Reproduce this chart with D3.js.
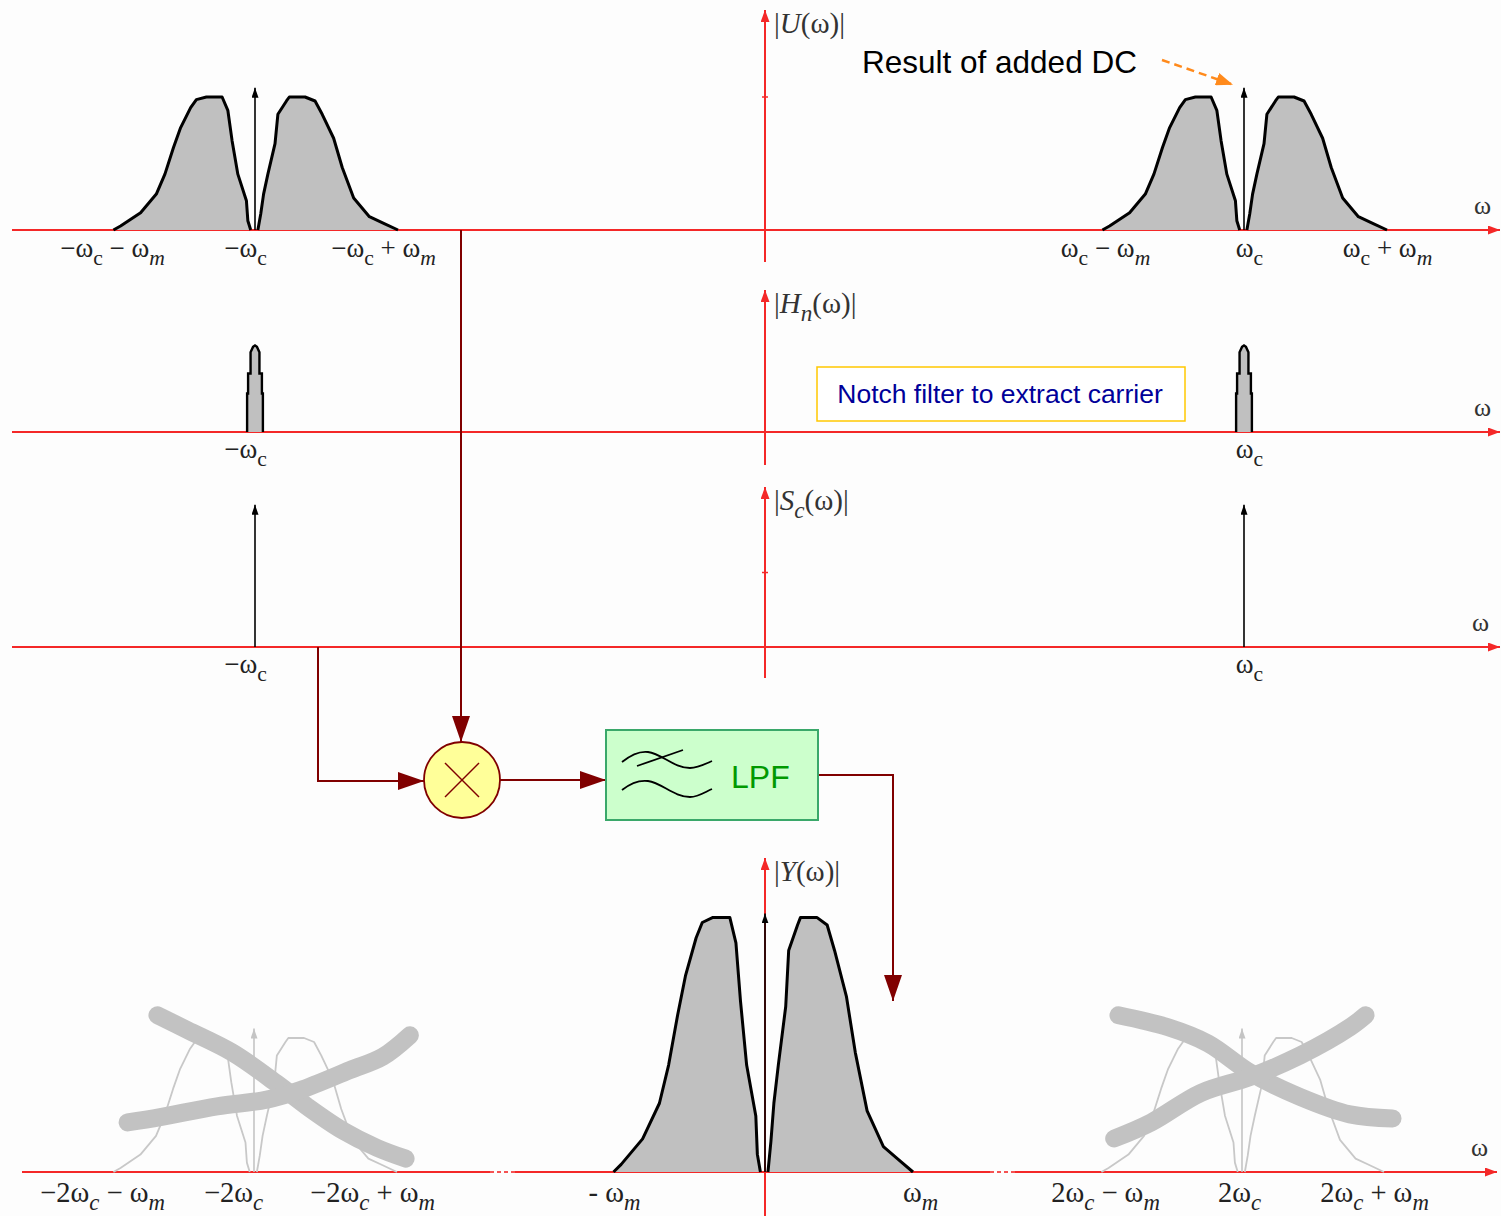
<!DOCTYPE html>
<html>
<head>
<meta charset="utf-8">
<script src="https://cdn.jsdelivr.net/npm/d3@7"></script>
<style>
body { margin: 0; background: #fdfdfd; }
svg { display: block; }
</style>
</head>
<body>
<script>
// carrier and message bandwidth (wc = 1)
var wc = 1, wm = 0.29;

// one side-band pair around a carrier: offset in units of wm, level
var lobeLeftU  = [-0.99, -0.94, -0.80, -0.69, -0.63, -0.57, -0.52, -0.45, -0.41, -0.34, -0.23, -0.19, -0.16, -0.12, -0.06, -0.05, -0.03];
var lobeLeftA  = [0, 0.03, 0.13, 0.27, 0.42, 0.62, 0.77, 0.92, 0.98, 1.0, 1.0, 0.9, 0.67, 0.42, 0.22, 0.07, 0];
var lobeRightU = [0.02, 0.04, 0.06, 0.09, 0.14, 0.16, 0.22, 0.24, 0.35, 0.42, 0.47, 0.55, 0.61, 0.69, 0.80, 0.90, 1.0];
var lobeRightA = [0, 0.12, 0.27, 0.42, 0.65, 0.87, 0.97, 1.0, 1.0, 0.97, 0.87, 0.69, 0.47, 0.24, 0.10, 0.05, 0];
var dcLevel = 1.07;

// notch filter response (offset in w units, level)
var notchU = [-0.016, -0.016, -0.014, -0.014, -0.009, -0.009, -0.004, 0, 0.004, 0.009, 0.009, 0.014, 0.014, 0.016, 0.016];
var notchA = [0, 0.29, 0.29, 0.44, 0.44, 0.60, 0.64, 0.65, 0.64, 0.60, 0.44, 0.44, 0.29, 0.29, 0];

// recovered baseband
var baseGain = 1.9, baseDc = 1.93;

// images at +-2wc that the LPF removes, and the two strokes crossing each out
var ghostCenters = [-2 * wc, 2 * wc];
var crossL1U = [-0.68, -0.47, -0.15, 0.16, 0.37, 0.62, 0.86, 1.06];
var crossL1A = [1.17, 1.06, 0.89, 0.66, 0.49, 0.31, 0.18, 0.10];
var crossL2U = [-0.89, -0.66, -0.26, 0.09, 0.32, 0.67, 0.90, 1.09];
var crossL2A = [0.37, 0.41, 0.49, 0.54, 0.61, 0.76, 0.86, 1.02];
var crossR1U = [-0.87, -0.52, -0.24, 0.06, 0.41, 0.76, 1.06];
var crossR1A = [1.17, 1.08, 0.96, 0.74, 0.56, 0.43, 0.40];
var crossR2U = [-0.90, -0.64, -0.29, 0.06, 0.41, 0.76, 0.87];
var crossR2A = [0.25, 0.37, 0.59, 0.71, 0.87, 1.08, 1.17];

// tick labels ( _x subscript, ~x italic subscript, *X italic )
var ticksTop = [-wc - wm, -wc, -wc + wm, wc - wm, wc, wc + wm];
var labelsTop = ["−ω_c − ω~m", "−ω_c", "−ω_c + ω~m", "ω_c − ω~m", "ω_c", "ω_c + ω~m"];
var ticksCarrier = [-wc, wc];
var labelsCarrier = ["−ω_c", "ω_c"];
var ticksBottom = [-2 * wc - wm, -2 * wc, -2 * wc + wm, -wm, wm, 2 * wc - wm, 2 * wc, 2 * wc + wm];
var labelsBottom = ["−2ω~c − ω~m", "−2ω~c", "−2ω~c + ω~m", "- ω~m", "ω~m", "2ω~c − ω~m", "2ω~c", "2ω~c + ω~m"];

var W = 1501, H = 1216;
var red = "#f42828", darkRed = "#800000";
var serif = "'Liberation Serif', 'DejaVu Serif', serif";
var sans = "'Liberation Sans', Arial, sans-serif";

// how far each tick label sits off its tick in the drawing (px)
var nudgeTop = [0, -10, -15, 4, 5, 0];
var nudgeCarrier = [-10, 5];
var nudgeBottom = [-10, -21, -25, 2, 7, 5, -3, -10];

var svg = d3.select("body").append("svg")
    .attr("width", W)
    .attr("height", H);

svg.append("rect").attr("width", W).attr("height", H).attr("fill", "#fdfdfd");

var defs = svg.append("defs");
function marker(id, color, len, wid) {
    defs.append("marker")
        .attr("id", id)
        .attr("viewBox", "0 0 10 10")
        .attr("preserveAspectRatio", "none")
        .attr("refX", 10).attr("refY", 5)
        .attr("markerUnits", "userSpaceOnUse")
        .attr("markerWidth", len).attr("markerHeight", wid)
        .attr("orient", "auto")
        .append("path").attr("d", "M0,0L10,5L0,10Z").attr("fill", color);
}
marker("arRed", red, 12, 9);
marker("arBlack", "#000", 10, 7);
marker("arGray", "#c4c4c4", 10, 7);
marker("arDark", darkRed, 26, 18);
marker("arOrange", "#ff8a1c", 17, 13);

// x scales: piecewise so the drawn (not to scale) layout is kept
var xTop = d3.scaleLinear()
    .domain([-wc - wm, -wc, -wc + wm, 0, wc - wm, wc, wc + wm])
    .range([112, 255, 398, 765, 1101, 1244, 1387]);
var xBot = d3.scaleLinear()
    .domain([-2 * wc - wm, -2 * wc, -2 * wc + wm, -2 * wc + 2 * wm, -wm, 0, wm, 2 * wc - 2 * wm, 2 * wc - wm, 2 * wc, 2 * wc + wm])
    .range([112, 254, 397, 540, 612, 765, 913, 958, 1100, 1242, 1384]);

var yU = d3.scaleLinear().domain([0, 1]).range([230, 97]);
var yH = d3.scaleLinear().domain([0, 1]).range([432, 299]);
var yS = d3.scaleLinear().domain([0, 1]).range([647, 514]);
var yY = d3.scaleLinear().domain([0, 1]).range([1172, 1038]);

function mathText(sel, str, size) {
    var parts = str.split(/([_~*].)/).filter(function(p) { return p.length; });
    var sub = size * 0.28, down = false;
    parts.forEach(function(p) {
        var t = sel.append("tspan");
        if (p[0] === "_" || p[0] === "~") {
            t.text(p[1]).attr("font-size", size * 0.8).attr("dy", down ? 0 : sub);
            if (p[0] === "~") t.attr("font-style", "italic");
            down = true;
        } else {
            if (down) { t.attr("dy", -sub); down = false; }
            if (p[0] === "*") t.text(p[1]).attr("font-style", "italic");
            else t.text(p);
        }
    });
}

// horizontal axis with arrow, vertical axis, and tick labels via d3.axisBottom
function panel(o) {
    var g = svg.append("g");
    (o.segments || [[o.x0, o.x1]]).forEach(function(s, i, all) {
        g.append("line")
            .attr("x1", s[0]).attr("x2", s[1])
            .attr("y1", o.y(0)).attr("y2", o.y(0))
            .attr("stroke", red).attr("stroke-width", 2)
            .attr("marker-end", i === all.length - 1 ? "url(#arRed)" : null);
    });
    (o.gaps || []).forEach(function(s) {
        g.append("line")
            .attr("x1", s[0]).attr("x2", s[1])
            .attr("y1", o.y(0)).attr("y2", o.y(0))
            .attr("stroke", red).attr("stroke-width", 2)
            .attr("stroke-dasharray", "4,3").attr("opacity", 0.8);
    });
    var vx = o.x(0);
    g.append("line")
        .attr("x1", vx).attr("x2", vx)
        .attr("y1", o.vBottom).attr("y2", o.vTop)
        .attr("stroke", red).attr("stroke-width", 2)
        .attr("marker-end", "url(#arRed)");
    (o.vTicks || []).forEach(function(v) {
        g.append("line")
            .attr("x1", vx - 3).attr("x2", vx + 3)
            .attr("y1", o.y(v)).attr("y2", o.y(v))
            .attr("stroke", red).attr("stroke-width", 1.5);
    });
    var lab = g.append("text")
        .attr("x", vx + 9).attr("y", o.vTop + 23)
        .attr("font-family", serif).attr("font-size", 29).attr("fill", "#333");
    mathText(lab, o.title, 29);

    g.append("text")
        .attr("x", o.omegaX).attr("y", o.y(0) - 16)
        .attr("font-family", serif).attr("font-size", 26).attr("fill", "#333")
        .text("ω");

    var ax = g.append("g")
        .attr("transform", "translate(0," + o.y(0) + ")")
        .call(d3.axisBottom(o.x).tickValues(o.ticks).tickSize(0).tickPadding(o.pad).tickFormat(""));
    ax.select(".domain").remove();
    ax.attr("font-family", serif).attr("font-size", o.fs);
    ax.selectAll(".tick text").each(function(d, i) {
        var t = d3.select(this).attr("fill", "#222").attr("x", o.nudge[i]);
        mathText(t, o.labels[i], o.fs);
    });
    return g;
}

function lobePath(x, y, center, gain, U, A) {
    var pts = U.map(function(u, i) { return [center + u * wm, A[i] * gain]; });
    return d3.line().x(function(d) { return x(d[0]); }).y(function(d) { return y(d[1]); })(pts);
}

function drawSpectrum(g, x, y, center, gain, dc, ghost) {
    [[lobeLeftU, lobeLeftA], [lobeRightU, lobeRightA]].forEach(function(l) {
        g.append("path")
            .attr("d", lobePath(x, y, center, gain, l[0], l[1]))
            .attr("fill", ghost ? "none" : "#c0c0c0")
            .attr("stroke", ghost ? "#c8c8c8" : "#000")
            .attr("stroke-width", ghost ? 1.8 : 3)
            .attr("stroke-linejoin", "round");
    });
    g.append("line")
        .attr("x1", x(center)).attr("x2", x(center))
        .attr("y1", y(0)).attr("y2", y(dc))
        .attr("stroke", ghost ? "#c4c4c4" : "#000").attr("stroke-width", 1.6)
        .attr("marker-end", ghost ? "url(#arGray)" : "url(#arBlack)");
}

// ---- |U(w)| ----
var pU = panel({ y: yU, x: xTop, x0: 12, x1: 1500, vTop: 10, vBottom: 262, vTicks: [1],
    title: "|*U(ω)|", omegaX: 1474, ticks: ticksTop, labels: labelsTop, nudge: nudgeTop, fs: 27, pad: 8 });
[-wc, wc].forEach(function(c) { drawSpectrum(pU, xTop, yU, c, 1, dcLevel, false); });

svg.append("text")
    .attr("x", 862).attr("y", 73)
    .attr("font-family", sans).attr("font-size", 31.5).attr("fill", "#000")
    .text("Result of added DC");
svg.append("line")
    .attr("x1", 1162).attr("y1", 60)
    .attr("x2", xTop(wc) - 11).attr("y2", yU(dcLevel) - 3)
    .attr("stroke", "#ff8a1c").attr("stroke-width", 2.5)
    .attr("stroke-dasharray", "8,5")
    .attr("marker-end", "url(#arOrange)");

// ---- |Hn(w)| ----
var pH = panel({ y: yH, x: xTop, x0: 12, x1: 1500, vTop: 290, vBottom: 465,
    title: "|*H~n(ω)|", omegaX: 1474, ticks: ticksCarrier, labels: labelsCarrier, nudge: nudgeCarrier, fs: 27, pad: 7 });
ticksCarrier.forEach(function(c) {
    var pts = notchU.map(function(u, i) { return [c + u, notchA[i]]; });
    pH.append("path")
        .attr("d", d3.line().x(function(d) { return xTop(d[0]); }).y(function(d) { return yH(d[1]); })(pts))
        .attr("fill", "#c0c0c0").attr("stroke", "#000").attr("stroke-width", 2.4);
});
svg.append("rect")
    .attr("x", 817).attr("y", 367).attr("width", 368).attr("height", 54)
    .attr("fill", "#fff").attr("stroke", "#ffc800").attr("stroke-width", 1.5);
svg.append("text")
    .attr("x", 1000).attr("y", 403)
    .attr("text-anchor", "middle")
    .attr("font-family", sans).attr("font-size", 26.5).attr("fill", "#000099")
    .text("Notch filter to extract carrier");

// ---- |Sc(w)| ----
var pS = panel({ y: yS, x: xTop, x0: 12, x1: 1500, vTop: 487, vBottom: 678, vTicks: [0.56],
    title: "|*S~c(ω)|", omegaX: 1472, ticks: ticksCarrier, labels: labelsCarrier, nudge: nudgeCarrier, fs: 27, pad: 7 });
ticksCarrier.forEach(function(c) {
    pS.append("line")
        .attr("x1", xTop(c)).attr("x2", xTop(c))
        .attr("y1", yS(0)).attr("y2", yS(dcLevel))
        .attr("stroke", "#000").attr("stroke-width", 1.6)
        .attr("marker-end", "url(#arBlack)");
});

// ---- |Y(w)| ----
var pY = panel({ y: yY, x: xBot, segments: [[22, 490], [515, 990], [1015, 1497]],
    gaps: [[490, 515], [990, 1015]], vTop: 858, vBottom: 1216,
    title: "|*Y(ω)|", omegaX: 1471, ticks: ticksBottom, labels: labelsBottom, nudge: nudgeBottom, fs: 28.5, pad: 10 });
drawSpectrum(pY, xBot, yY, 0, baseGain, baseDc, false);
ghostCenters.forEach(function(c) { drawSpectrum(pY, xBot, yY, c, 1, dcLevel, true); });

var crossLine = d3.line().curve(d3.curveCatmullRom)
    .x(function(d) { return xBot(d[0]); }).y(function(d) { return yY(d[1]); });
[[ghostCenters[0], crossL1U, crossL1A], [ghostCenters[0], crossL2U, crossL2A],
 [ghostCenters[1], crossR1U, crossR1A], [ghostCenters[1], crossR2U, crossR2A]].forEach(function(s) {
    var pts = s[1].map(function(u, i) { return [s[0] + u * wm, s[2][i]]; });
    pY.append("path")
        .attr("d", crossLine(pts))
        .attr("fill", "none").attr("stroke", "#c2c2c2")
        .attr("stroke-width", 18).attr("stroke-linecap", "round").attr("stroke-linejoin", "round");
});

// ---- block diagram ----
var bd = svg.append("g").attr("stroke", darkRed).attr("stroke-width", 2).attr("fill", "none");
var mx = 462, my = 780, mr = 38;
bd.append("line").attr("x1", 461).attr("y1", yU(0)).attr("x2", 461).attr("y2", my - mr)
    .attr("marker-end", "url(#arDark)");
bd.append("polyline").attr("points", [[318, yS(0)], [318, 781], [mx - mr, 781]].join(" "))
    .attr("marker-end", "url(#arDark)");
bd.append("circle").attr("cx", mx).attr("cy", my).attr("r", mr)
    .attr("fill", "#ffff99").attr("stroke-width", 1.8);
bd.append("line").attr("x1", mx - 17).attr("y1", my - 17).attr("x2", mx + 17).attr("y2", my + 17).attr("stroke-width", 1.5);
bd.append("line").attr("x1", mx + 17).attr("y1", my - 17).attr("x2", mx - 17).attr("y2", my + 17).attr("stroke-width", 1.5);
bd.append("line").attr("x1", mx + mr).attr("y1", 780).attr("x2", 606).attr("y2", 780)
    .attr("marker-end", "url(#arDark)");

svg.append("rect")
    .attr("x", 606).attr("y", 730).attr("width", 212).attr("height", 90)
    .attr("fill", "#ccffcc").attr("stroke", "#3aa86a").attr("stroke-width", 2);
var icon = svg.append("g").attr("fill", "none").attr("stroke", "#000").attr("stroke-width", 1.8);
icon.append("path").attr("d", "M622,762 C632,754 640,751 648,752 C662,754 674,768 690,768 C698,768 705,764 712,761");
icon.append("path").attr("d", "M637,766 L683,750");
icon.append("path").attr("d", "M622,790 C632,782 640,780 648,781 C662,783 674,797 690,797 C698,797 705,792 712,789");
svg.append("text")
    .attr("x", 731).attr("y", 788)
    .attr("font-family", sans).attr("font-size", 32).attr("fill", "#009900")
    .text("LPF");

bd.append("polyline").attr("points", [[818, 775], [893, 775], [893, 1001]].join(" "))
    .attr("marker-end", "url(#arDark)");
</script>
</body>
</html>
